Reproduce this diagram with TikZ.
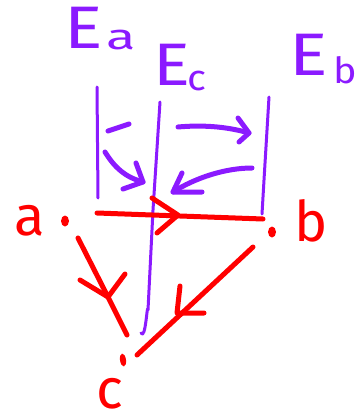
\documentclass[tikz,border=0pt]{standalone}
\usepackage{fontspec}
\setmainfont{Fira Sans}
\usetikzlibrary{shapes.geometric}
\definecolor{pur}{RGB}{139,26,255}
\definecolor{rd}{RGB}{255,0,0}
\newcommand\wideE[1]{\scalebox{#1}[1]{E}}
\newcommand\lowsub[3]{\raisebox{#1}{\fontsize{36}{36}\selectfont\scalebox{#2}[1]{#3}}}
\begin{document}
\begin{tikzpicture}[x=1pt,y=-1pt,
  pline/.style={pur, line width=3pt, line cap=round, line join=round},
  parrow/.style={pur, line width=5pt, line cap=round, line join=round},
  rline/.style={rd, line width=5pt, line cap=round, line join=round},
  elabel/.style={pur, inner sep=0pt, font=\fontsize{60}{60}\selectfont},
  rlabel/.style={rd, inner sep=0pt, font=\fontsize{56}{56}\selectfont},
  dot/.style={ellipse, fill=rd, inner sep=0pt, minimum width=8pt, minimum height=11pt}]
\path[use as bounding box] (0,0) rectangle (358,415);

% field labels
\node[elabel] (Ea) at (100,28.5) {\wideE{1.2}\hspace{3pt}\lowsub{-1pt}{1.5}{a}};
\node[elabel] (Ec) at (180,67.5) {\wideE{1.15}\hspace{-2pt}\lowsub{-5pt}{1.1}{c}};
\node[elabel] (Eb) at (323,59) {\wideE{1.2}\hspace{5pt}\lowsub{-8pt}{1.1}{b}};

% points
\node[dot] (a) at (65,221) {};
\node[dot] (b) at (272,232) {};
\node[dot, minimum width=6pt, minimum height=13pt, rotate=8] (c) at (123,360) {};
\node[rlabel] (la) at (29.5,221) {a};
\node[rlabel] (lb) at (311.5,220.5) {b};
\node[rlabel] (lc) at (110,394) {c};

% purple field lines
\coordinate (Ea1) at (97,87);
\coordinate (Ea2) at (98,198);
\coordinate (Ec1) at (160,102);
\coordinate (Ec2) at (141,333);
\coordinate (Eb1) at (269,97);
\coordinate (Eb2) at (262,214);
\draw[pline] (Ea1) -- (Ea2);
\draw[pline] (Ec1) -- (153,210) -- (148,310) to[out=95,in=-60] (Ec2);
\draw[pline] (Eb1) -- (264,180) -- (Eb2);

% purple arrows
\coordinate (d1) at (108,131);
\coordinate (d2) at (129,124);
\draw[parrow] (d1) -- (d2);
\coordinate (p1) at (105,152);
\coordinate (p2) at (143,182);
\draw[parrow] (p1) .. controls (115,168) and (125,177) .. (p2);
\draw[parrow] (136,163) -- (p2) -- (123,189);
\coordinate (q1) at (178,127);
\coordinate (q2) at (249,133);
\draw[parrow] (q1) .. controls (200,125) and (225,126) .. (q2);
\draw[parrow] (238,118) -- (q2) -- (239,142);
\coordinate (r1) at (252,168);
\coordinate (r2) at (173,192);
\draw[parrow] (r1) .. controls (225,168) and (195,178) .. (r2);
\draw[parrow] (182,173) -- (r2) -- (202,192);

% red connectors
\coordinate (ab1) at (97,213);
\coordinate (ab2) at (263,219);
\draw[rline] (ab1) -- (ab2);
\draw[rline] (152,198) -- (178,215) -- (157,233);
\coordinate (ac1) at (78,238);
\coordinate (ac2) at (127,335);
\draw[rline] (ac1) -- (108,297) -- (ac2);
\draw[rline] (80,280) -- (108,297) -- (125,274);
\coordinate (bc1) at (253,247);
\coordinate (bc2) at (137,355);
\draw[rline] (bc1) -- (bc2);
\draw[rline] (180,286) -- (177,313) -- (204,313);
\end{tikzpicture}
\end{document}
